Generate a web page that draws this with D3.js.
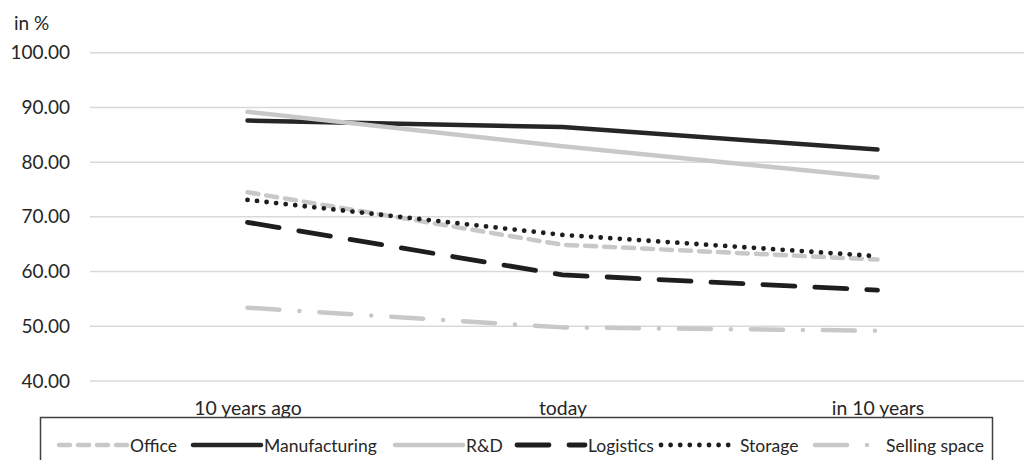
<!DOCTYPE html>
<html>
<head>
<meta charset="utf-8">
<script src="https://cdn.jsdelivr.net/npm/d3@7"></script>
<style>
  html, body { margin: 0; padding: 0; background: #fff; }
  svg { display: block; font-family: Lato, "Open Sans", sans-serif; }
</style>
</head>
<body>
<svg id="chart" width="1024" height="460"></svg>
<script>
// Share of space (in %) by use type, three points in time
const categories = ["10 years ago", "today", "in 10 years"];
const seriesNames = ["Office", "Manufacturing", "R&D", "Logistics", "Storage", "Selling space"];
const office       = [74.5, 64.9, 62.2];
const manufacturing = [87.6, 86.4, 82.3];
const rnd          = [89.2, 82.9, 77.2];
const logistics    = [69.0, 59.4, 56.6];
const storage      = [73.1, 66.7, 62.8];
const sellingSpace = [53.4, 49.8, 49.2];
const yTicks = [40, 50, 60, 70, 80, 90, 100];
const yUnit = "in %";

const seriesValues = [office, manufacturing, rnd, logistics, storage, sellingSpace];

// Line styles per series
const styles = [
  { color: "#c8c8c8", width: 4.5, dash: "11 8" },
  { color: "#262626", width: 4.5, dash: null },
  { color: "#c8c8c8", width: 4.5, dash: null },
  { color: "#1e1e1e", width: 4.8, dash: "32 20" },
  { color: "#1e1e1e", width: 4.8, dash: "0 9.6" },
  { color: "#c8c8c8", width: 4.5, dash: "32 20 0 20" }
];

const svg = d3.select("#chart");

const x = d3.scalePoint().domain(categories).range([90, 1035]).padding(0.5);
const y = d3.scaleLinear().domain([40, 100]).range([381, 52.7]);

// Horizontal gridlines
svg.append("g")
  .selectAll("line")
  .data(yTicks)
  .join("line")
  .attr("x1", 90).attr("x2", 1035)
  .attr("y1", d => y(d)).attr("y2", d => y(d))
  .attr("stroke", "#d9d9d9").attr("stroke-width", 1.5);

// Y axis labels
const yAxis = d3.axisLeft(y).tickValues(yTicks).tickFormat(d3.format(".2f")).tickSize(0).tickPadding(0);
const yAxisG = svg.append("g").attr("transform", "translate(70,0)").call(yAxis);
yAxisG.select(".domain").remove();
yAxisG.selectAll("text")
  .attr("font-family", "Lato, sans-serif")
  .attr("font-size", 19)
  .attr("fill", "#262626");

svg.append("text")
  .attr("x", 14).attr("y", 30)
  .attr("font-size", 19).attr("fill", "#262626")
  .text(yUnit);

// X axis labels
const xAxis = d3.axisBottom(x).tickSize(0).tickPadding(0);
const xAxisG = svg.append("g").attr("transform", "translate(0,401)").call(xAxis);
xAxisG.select(".domain").remove();
xAxisG.selectAll("text")
  .attr("font-family", "Lato, sans-serif")
  .attr("font-size", 19.4)
  .attr("fill", "#262626");

// Series lines
const line = d3.line().x((d, i) => x(categories[i])).y(d => y(d));
svg.append("g")
  .selectAll("path")
  .data(seriesValues)
  .join("path")
  .attr("d", d => line(d))
  .attr("fill", "none")
  .attr("stroke", (d, i) => styles[i].color)
  .attr("stroke-width", (d, i) => styles[i].width)
  .attr("stroke-dasharray", (d, i) => styles[i].dash)
  .attr("stroke-linecap", "round")
  .attr("stroke-linejoin", "round");

// Legend
svg.append("rect")
  .attr("x", 40.5).attr("y", 417.5)
  .attr("width", 952).attr("height", 60)
  .attr("fill", "none").attr("stroke", "#404040").attr("stroke-width", 1.5);

const legendX = [59, 193, 395, 517, 661, 815];
const swatchLen = [68, 68, 68, 68, 76, 68];
const legendY = 445;
const legend = svg.append("g")
  .selectAll("g")
  .data(seriesNames)
  .join("g")
  .attr("transform", (d, i) => `translate(${legendX[i]},${legendY})`);

legend.append("line")
  .attr("x1", 0).attr("x2", (d, i) => swatchLen[i])
  .attr("y1", 0).attr("y2", 0)
  .attr("stroke", (d, i) => styles[i].color)
  .attr("stroke-width", (d, i) => styles[i].width)
  .attr("stroke-dasharray", (d, i) => styles[i].dash)
  .attr("stroke-linecap", "round");

legend.append("text")
  .attr("x", (d, i) => swatchLen[i] + 3)
  .attr("y", 6.5)
  .attr("font-size", 17.5)
  .attr("fill", "#262626")
  .text(d => d);
</script>
</body>
</html>
